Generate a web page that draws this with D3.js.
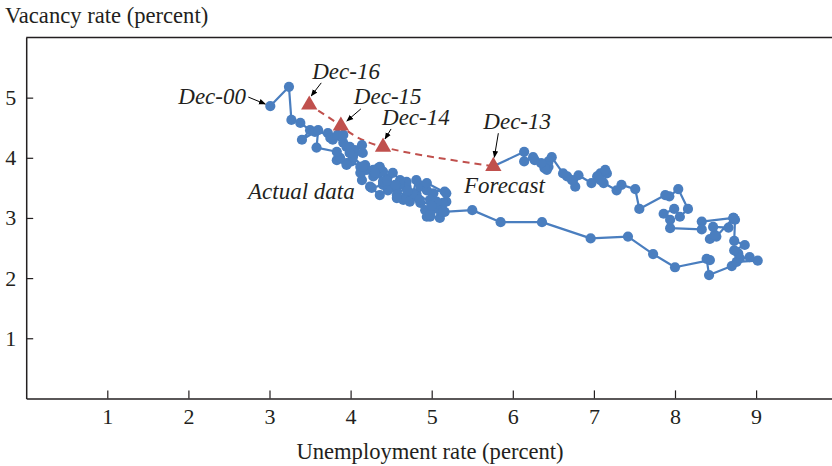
<!DOCTYPE html>
<html>
<head>
<meta charset="utf-8">
<script src="https://cdn.jsdelivr.net/npm/d3@7"></script>
<style>
  html, body { margin: 0; padding: 0; background: #fff; }
  svg { display: block; }
  text { font-family: "Liberation Serif", "Times New Roman", serif; fill: #231f20; }
</style>
</head>
<body>
<svg id="chart" width="832" height="466"></svg>
<script>
// ---- Data ----
// Actual monthly path, Dec-00 onwards: unemployment rate (x) and vacancy rate (y)
const actualUnemp = [
  3.01,
  3.24,3.27,3.38,3.50,3.40,3.56,3.72,3.91,3.99,4.14,4.28,4.45,
  4.40,4.49,4.57,4.69,4.65,4.73,4.57,4.69,4.81,4.86,4.92,4.98,
  4.94,5.06,5.10,5.16,5.18,5.14,5.10,4.98,5.06,5.02,4.98,4.82,
  4.86,4.94,5.16,5.18,4.94,4.81,4.77,4.69,4.61,4.57,4.61,4.52,
  4.46,4.36,4.24,4.26,4.40,4.36,4.40,4.34,4.20,4.14,4.12,4.15,
  4.18,4.12,4.01,3.95,3.95,3.83,3.87,3.83,3.58,3.60,3.75,3.78,
  3.84,3.91,3.95,3.99,4.05,4.14,4.15,4.03,3.99,4.15,4.28,4.40,
  4.30,4.45,4.55,4.70,4.85,5.00,5.14,5.50,5.85,6.36,
  6.96,7.42,7.73,8.00,8.43,8.39,8.42,8.70,8.76,9.02,8.92,8.80,
  8.78,8.73,8.86,8.73,8.74,8.72,8.51,8.43,8.49,8.47,8.66,8.72,
  8.33,8.33,7.94,7.94,7.86,7.99,8.06,8.16,8.04,7.93,7.88,7.56,
  7.51,7.34,7.28,7.12,7.16,7.08,7.14,7.04,7.08,6.97,6.81,6.77,
  6.73,6.67,6.62,6.48,6.44,6.44,6.42,6.39,6.35,6.27,6.25,6.14,6.14
];
const actualVacancy = [
  4.86,
  5.18,4.63,4.58,4.46,4.30,4.43,4.41,4.25,4.08,3.85,3.69,3.66,
  3.60,3.52,3.46,3.35,3.30,3.27,3.38,3.52,3.41,3.25,3.13,3.02,
  3.02,3.17,3.00,3.10,3.27,3.25,3.13,3.05,3.27,3.41,3.30,3.35,
  3.52,3.46,3.44,3.41,3.58,3.63,3.41,3.60,3.58,3.33,3.63,3.75,
  3.46,3.38,3.52,3.50,3.55,3.85,3.77,3.83,3.80,3.63,3.75,3.85,
  3.88,3.85,3.94,3.91,3.88,3.96,4.00,4.10,4.17,4.46,4.33,4.30,
  4.38,4.38,4.18,4.18,4.13,4.21,4.08,4.02,4.08,3.85,3.80,3.60,
  3.75,3.62,3.55,3.45,3.30,3.20,3.10,3.13,2.93,2.93,
  2.66,2.69,2.40,2.18,2.30,2.32,2.05,2.20,2.27,2.29,2.35,2.33,
  2.41,2.46,2.55,2.62,2.97,3.00,2.69,2.65,2.72,2.85,2.84,3.00,
  2.94,2.81,2.83,2.97,3.07,3.15,3.02,3.15,3.48,3.36,3.38,3.15,
  3.48,3.55,3.46,3.58,3.74,3.74,3.80,3.69,3.63,3.58,3.71,3.52,
  3.63,3.69,3.74,4.01,3.94,3.85,3.80,3.83,3.91,3.96,4.01,3.94,4.10
];
// Forecast points
const forecastLabels = ["Dec-13", "Dec-14", "Dec-15", "Dec-16"];
const forecastUnemp = [5.76, 4.40, 3.88, 3.49];
const forecastVacancy = [3.86, 4.18, 4.53, 4.88];
// Axis ticks
const xTicks = [1, 2, 3, 4, 5, 6, 7, 8, 9];
const yTicks = [1, 2, 3, 4, 5];
const xTitle = "Unemployment rate (percent)";
const yTitle = "Vacancy rate (percent)";

// ---- Drawing ----
const svg = d3.select("#chart");
const W = 832, H = 466;
const x = d3.scaleLinear().domain([0, 10]).range([26.2, 837.2]);
const y = d3.scaleLinear().domain([0, 6]).range([398.4, 37.5]);

const axisColor = "#231f20";
const blue = "#4a7ebf";
const red = "#c0504d";

// defs: arrowhead
svg.append("defs").append("marker")
  .attr("id", "arrow")
  .attr("viewBox", "0 0 10 10")
  .attr("refX", 9).attr("refY", 5)
  .attr("markerWidth", 7).attr("markerHeight", 7)
  .attr("orient", "auto-start-reverse")
  .append("path").attr("d", "M0,1 L10,5 L0,9 Z").attr("fill", "#000");

// top frame line
svg.append("line")
  .attr("x1", x(0)).attr("x2", W).attr("y1", y(6)).attr("y2", y(6))
  .attr("stroke", axisColor).attr("stroke-width", 1.5);

// x axis
const gx = svg.append("g").attr("transform", `translate(0,${y(0)})`)
  .call(d3.axisBottom(x).tickValues(xTicks).tickFormat(d3.format("d"))
    .tickSizeInner(-8).tickSizeOuter(0).tickPadding(10));
gx.select(".domain").attr("stroke", axisColor).attr("stroke-width", 1.5);
gx.selectAll(".tick line").attr("stroke", axisColor).attr("stroke-width", 1.2);
gx.selectAll(".tick text").attr("font-size", 22).attr("font-family", "Liberation Serif").attr("fill", axisColor);

// y axis
const gy = svg.append("g").attr("transform", `translate(${x(0)},0)`)
  .call(d3.axisLeft(y).tickValues(yTicks).tickFormat(d3.format("d"))
    .tickSizeInner(-7).tickSizeOuter(0).tickPadding(10));
gy.select(".domain").attr("stroke", axisColor).attr("stroke-width", 1.5);
gy.selectAll(".tick line").attr("stroke", axisColor).attr("stroke-width", 1.2);
gy.selectAll(".tick text").attr("font-size", 22).attr("font-family", "Liberation Serif").attr("fill", axisColor);

// titles
svg.append("text").attr("x", 5).attr("y", 23).attr("font-size", 22.6).text(yTitle);
svg.append("text").attr("x", 430).attr("y", 459).attr("text-anchor", "middle")
  .attr("font-size", 22.6).text(xTitle);

// data objects
const actual = actualUnemp.map((u, i) => ({ u, v: actualVacancy[i] }));
const forecast = forecastUnemp.map((u, i) => ({ u, v: forecastVacancy[i], label: forecastLabels[i] }));

// forecast dashed curve
svg.append("path")
  .datum(forecast)
  .attr("fill", "none").attr("stroke", red).attr("stroke-width", 2)
  .attr("stroke-dasharray", "7,5")
  .attr("d", d3.line().x(d => x(d.u)).y(d => y(d.v)).curve(d3.curveNatural));

// actual line (connects into the Dec-13 forecast start)
svg.append("path")
  .datum(actual.concat([forecast[0]]))
  .attr("fill", "none").attr("stroke", blue).attr("stroke-width", 2.2)
  .attr("stroke-linejoin", "round")
  .attr("d", d3.line().x(d => x(d.u)).y(d => y(d.v)));

svg.append("g").selectAll("circle").data(actual).join("circle")
  .attr("cx", d => x(d.u)).attr("cy", d => y(d.v)).attr("r", 5.1)
  .attr("fill", blue);

// forecast triangles
svg.append("g").selectAll("path").data(forecast).join("path")
  .attr("transform", d => `translate(${x(d.u)},${y(d.v)})`)
  .attr("d", d3.symbol().type(d3.symbolTriangle).size(115))
  .attr("fill", red);

// annotations (offsets relative to the point they label)
function annotate(px, py, label, tx, ty, ax1, ay1, ax2, ay2) {
  svg.append("text").attr("x", px + tx).attr("y", py + ty)
    .attr("font-size", 23).attr("font-style", "italic").text(label);
  svg.append("line")
    .attr("x1", px + ax1).attr("y1", py + ay1).attr("x2", px + ax2).attr("y2", py + ay2)
    .attr("stroke", "#000").attr("stroke-width", 1).attr("marker-end", "url(#arrow)");
}
// Dec-00
const p0 = actual[0];
annotate(x(p0.u), y(p0.v), "Dec-00", -92, -2, -22, -9, -5, -2);
// forecast labels
const fOff = {
  "Dec-13": [-10, -37, 5, -33, 1, -9],
  "Dec-14": [-1, -22, 8, -18, 2, -8],
  "Dec-15": [13, -22, 20, -17, 6, -5],
  "Dec-16": [3, -26, 12, -22, 2, -9]
};
forecast.forEach(d => {
  const o = fOff[d.label];
  annotate(x(d.u), y(d.v), d.label, o[0], o[1], o[2], o[3], o[4], o[5]);
});

// series labels
svg.append("text").attr("x", 248).attr("y", 199).attr("font-size", 23).attr("font-style", "italic").text("Actual data");
svg.append("text").attr("x", 464).attr("y", 193).attr("font-size", 23).attr("font-style", "italic").text("Forecast");
</script>
</body>
</html>
